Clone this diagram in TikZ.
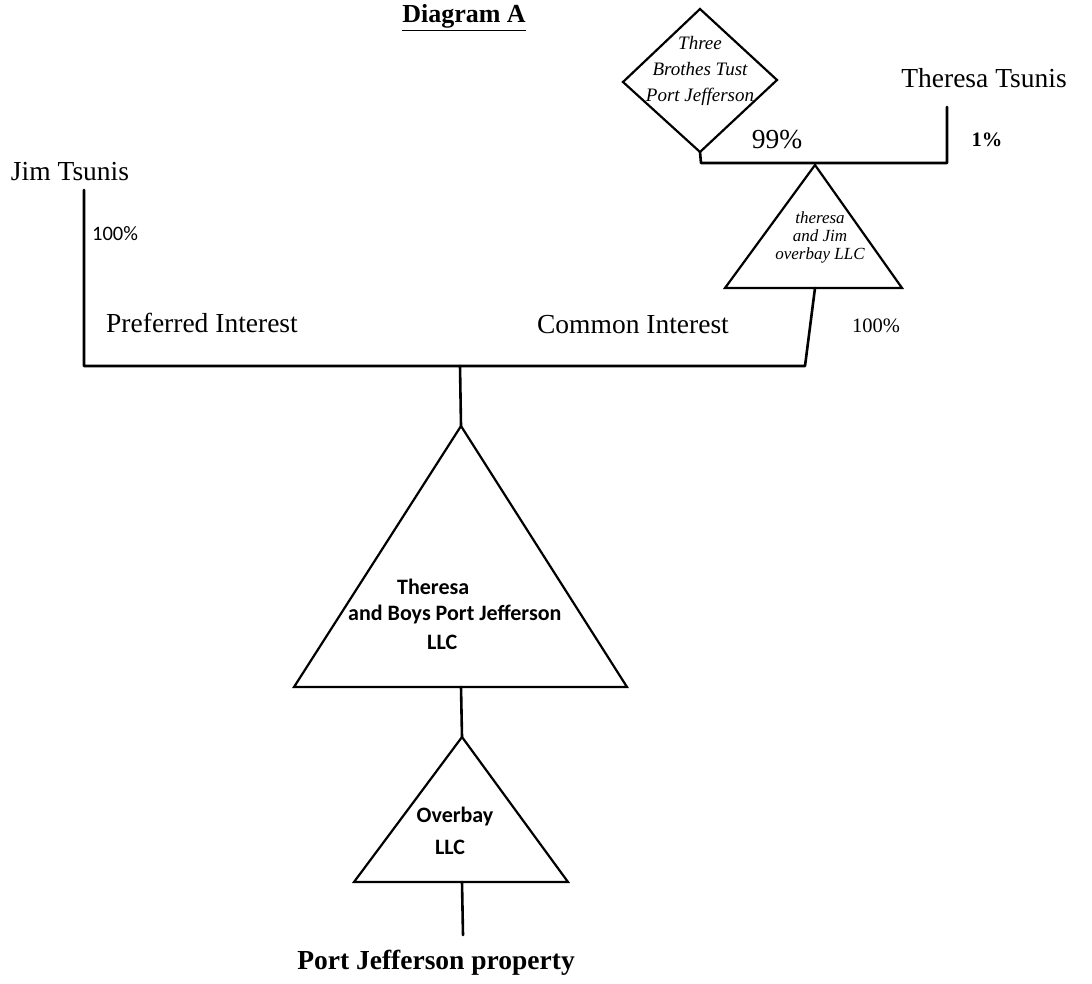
\documentclass[tikz,border=0pt]{standalone}
\usepackage{fontspec}
\setmainfont{Liberation Serif}
\newfontfamily\calfont{Carlito}
\usetikzlibrary{calc}
\tikzset{
  conn/.style={line width=2.6pt, line cap=round, line join=round},
  shp/.style={line width=2.2pt, line join=miter},
  big/.style={font=\fontsize{27.5}{30}\selectfont, inner sep=0pt},
  pct/.style={font=\fontsize{20.5}{23}\selectfont, inner sep=0pt},
  pctsans/.style={font=\calfont\fontsize{20.5}{23}\selectfont, inner sep=0pt},
  llc/.style={font=\calfont\bfseries\fontsize{22}{24}\selectfont, inner sep=0pt},
  hand/.style={font=\itshape\fontsize{19}{26}\selectfont, inner sep=0pt, align=center},
  handsm/.style={font=\itshape\fontsize{17}{18}\selectfont, inner sep=0pt, align=center},
}
\begin{document}
\begin{tikzpicture}[x=1pt,y=-1pt]
\useasboundingbox (0,0) rectangle (1092,984);
% title
\node[big, font=\bfseries\fontsize{26}{30}\selectfont, anchor=base] (title) at (464,23) {\underline{Diagram A}};
% people
\node[big] (jim) at (70,172) {Jim Tsunis};
\node[big] (theresa) at (984,78) {Theresa Tsunis};
% key coordinates
\coordinate (jimtop) at (84,190);
\coordinate (mainL) at (84,366);
\coordinate (mainR) at (805,366);
\coordinate (mainMid) at (460,366);
\coordinate (tstop) at (947,107);
\coordinate (topR) at (947,163);
\coordinate (topL) at (701,163);
% trust diamond
\coordinate (dT) at (700,9);
\coordinate (dL) at (623,82);
\coordinate (dR) at (777,80);
\coordinate (dB) at (700,152);
\draw[shp] (dT) -- (dR) -- (dB) -- (dL) -- cycle;
\node[hand] (trust) at (700,71) {Three\\Brothes Tust\\Port Jefferson};
% small triangle (theresa and jim overbay)
\coordinate (ojA) at (815,165);
\coordinate (ojBL) at (725,288);
\coordinate (ojBR) at (902,288);
\coordinate (ojB) at (815,288);
\draw[shp] (ojA) -- (ojBR) -- (ojBL) -- cycle;
\node[handsm] (oj) at (820,237) {theresa\\and Jim\\overbay LLC};
% big triangle
\coordinate (bA) at (461,426);
\coordinate (bBL) at (294,687);
\coordinate (bBR) at (627,687);
\coordinate (bB) at (461,687);
\draw[shp] (bA) -- (bBR) -- (bBL) -- cycle;
\node[llc, anchor=west] (tb1) at (397,587) {Theresa};
\node[llc, anchor=west] (tb2) at (348,614) {and Boys Port Jefferson};
\node[llc, anchor=west] (tb3) at (427,642) {LLC};
% overbay triangle
\coordinate (oA) at (462,737);
\coordinate (oBL) at (354,882);
\coordinate (oBR) at (568,882);
\coordinate (oB) at (462,882);
\draw[shp] (oA) -- (oBR) -- (oBL) -- cycle;
\node[llc] (ob1) at (455,817) {Overbay};
\node[llc] (ob2) at (450,847) {LLC};
% property
\coordinate (propTop) at (463,935);
\node[big, font=\bfseries\fontsize{27.5}{30}\selectfont] (prop) at (436,963) {Port Jefferson property};
% connectors
\draw[conn] (jimtop) -- (mainL) -- (mainR) -- (ojB);
\draw[conn] (dB) -- (topL) -- (topR) -- (tstop);
\draw[conn] (mainMid) -- (bA);
\draw[conn] (bB) -- (oA);
\draw[conn] (oB) -- (propTop);
% labels
\node[pctsans, anchor=west] (p100a) at (92,234) {100\%};
\node[big] (pref) at (202,323) {Preferred Interest};
\node[big] (common) at (633,325) {Common Interest};
\node[pct] (p100b) at (876,326) {100\%};
\node[big] (p99) at (777,140) {99\%};
\node[pct, font=\bfseries\fontsize{20.5}{23}\selectfont] (p1) at (987,140) {1\%};
\end{tikzpicture}
\end{document}
